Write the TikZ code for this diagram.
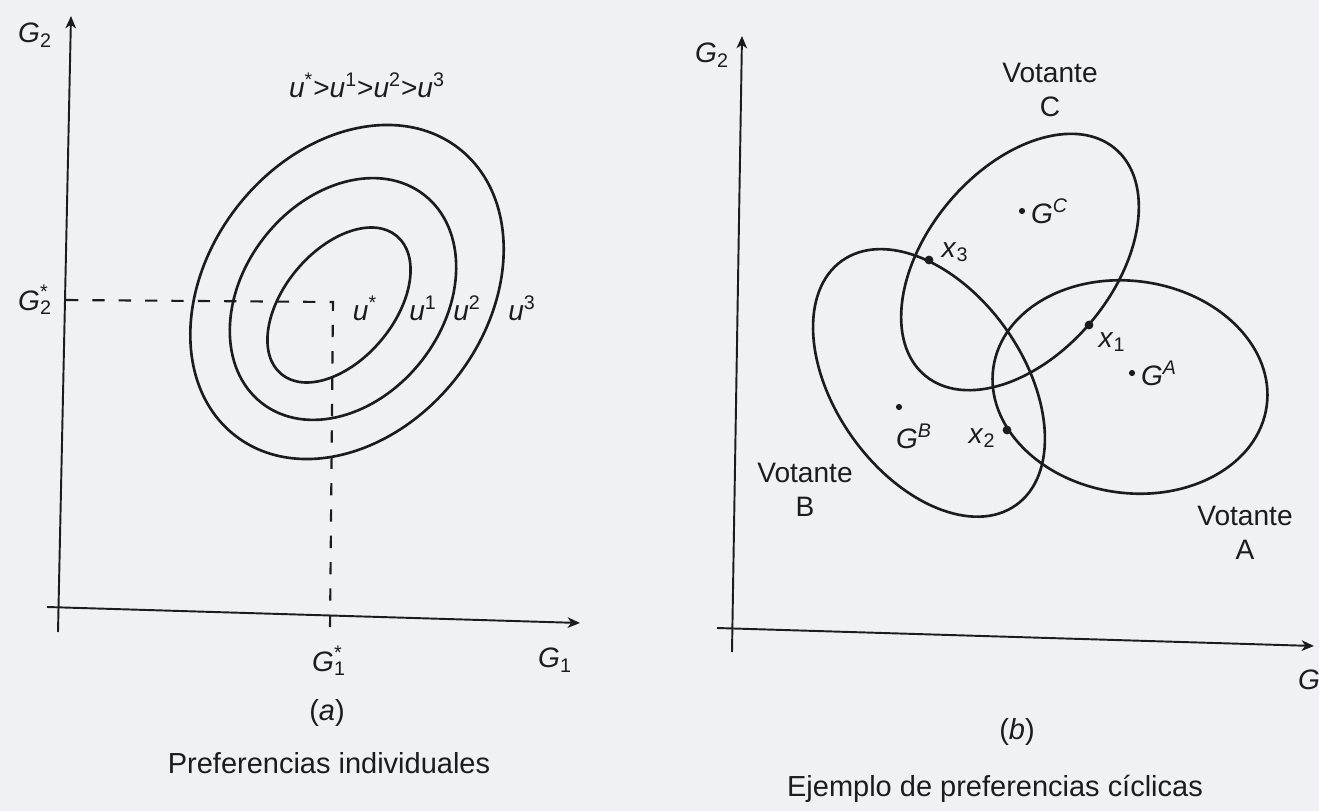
\documentclass[tikz,border=0pt]{standalone}
\usepackage{fontspec}
\setmainfont{Liberation Sans}
\usepackage{tikz}
\usetikzlibrary{arrows.meta,positioning}
\usepackage{xcolor}
\definecolor{paper}{RGB}{240,241,245}
\definecolor{ink}{RGB}{28,28,32}
\newcommand{\gv}[1]{\textit{#1}}

\begin{document}
\begin{tikzpicture}[
    x=0.02cm, y=-0.02cm,
    every node/.style={font=\fontsize{16}{19}\selectfont, text=ink, inner sep=1pt},
    curve/.style={draw=ink, line width=1.5pt},
    axis/.style={draw=ink, line width=1.1pt, -{Stealth[length=7pt, width=6pt, inset=2pt]}},
    guide/.style={draw=ink, line width=1.2pt, dash pattern=on 7pt off 8pt},
    dot/.style={circle, fill=ink, inner sep=0pt, minimum size=3.5pt},
    bigdot/.style={circle, fill=ink, inner sep=0pt, minimum size=5pt},
    caption/.style={align=center, font=\fontsize{16.5}{20}\selectfont}
]
\fill[paper] (0,0) rectangle (1319,811);
\useasboundingbox (0,0) rectangle (1319,811);

% (a) preferencias individuales
\coordinate (a0y) at (58,632);
\coordinate (a1y) at (71,16);
\coordinate (a0x) at (47,607);
\coordinate (a1x) at (580,623);
\coordinate (ustar) at (333,302);
\coordinate (g2tick) at (66,300);
\coordinate (g1tick) at (330,628);
\coordinate (ein) at (339,305);
\coordinate (emid) at (343,299);
\coordinate (eout) at (347,292);

\draw[axis] (a0y) -- (a1y);
\draw[axis] (a0x) -- (a1x);
\draw[guide] (g2tick) -- (ustar) -- (g1tick);
\draw[curve, rotate around={50:(ein)}] (ein) ellipse [x radius=90, y radius=55];
\draw[curve, rotate around={52:(emid)}] (emid) ellipse [x radius=132, y radius=100];
\draw[curve, rotate around={52:(eout)}] (eout) ellipse [x radius=182, y radius=139];

\node (g2a) at (35,35) {\gv{G}\textsubscript{2}};
\node (g2sa) at (35,300) {\gv{G}\rlap{\textsuperscript{*}}\textsubscript{2}};
\node (order) at (367,85) {\gv{u}\textsuperscript{*}>\gv{u}\textsuperscript{1}>\gv{u}\textsuperscript{2}>\gv{u}\textsuperscript{3}};
\node (ua) at (365,308) {\gv{u}\textsuperscript{*}};
\node (u1) at (423,308) {\gv{u}\textsuperscript{1}};
\node (u2) at (467,308) {\gv{u}\textsuperscript{2}};
\node (u3) at (522,308) {\gv{u}\textsuperscript{3}};
\node (g1sa) at (329,661) {\gv{G}\rlap{\textsuperscript{*}}\textsubscript{1}};
\node (g1a) at (555,660) {\gv{G}\textsubscript{1}};
\node[caption] (capa) at (327,713) {(\gv{a})};
\node[caption] (titlea) at (329,763) {Preferencias individuales};

% (b) preferencias ciclicas
\coordinate (b0y) at (732,652);
\coordinate (b1y) at (742,36);
\coordinate (b0x) at (717,628);
\coordinate (b1x) at (1314,646);
\coordinate (cA) at (1130,387);
\coordinate (cB) at (929,383);
\coordinate (cC) at (1020,262);

\draw[axis] (b0y) -- (b1y);
\draw[axis] (b0x) -- (b1x);
\draw[curve, rotate around={-8:(cA)}] (cA) ellipse [x radius=138, y radius=106];
\draw[curve, rotate around={-54.5:(cB)}] (cB) ellipse [x radius=150, y radius=94];
\draw[curve, rotate around={50:(cC)}] (cC) ellipse [x radius=148, y radius=93];

\node[dot] (gA) at (1132,373) {};
\node[dot] (gB) at (899,407) {};
\node[dot] (gC) at (1022,211) {};
\node[bigdot] (x1) at (1089,325) {};
\node[bigdot] (x2) at (1007,430) {};
\node[bigdot] (x3) at (929,260) {};

\node[right=2pt of gA] (gAl) {\gv{G}\textsuperscript{\gv{A}}};
\node[right=2pt of gC] (gCl) {\gv{G}\textsuperscript{\gv{C}}};
\node (gBl) at (914,436) {\gv{G}\textsuperscript{\gv{B}}};
\node (x1l) at (1112,342) {\gv{x}\textsubscript{1}};
\node (x2l) at (982,438) {\gv{x}\textsubscript{2}};
\node (x3l) at (955,252) {\gv{x}\textsubscript{3}};

\node[align=center] (votC) at (1050,90) {Votante\\C};
\node[align=center] (votB) at (805,490) {Votante\\B};
\node[align=center] (votA) at (1245,533) {Votante\\A};

\node (g2b) at (712,55) {\gv{G}\textsubscript{2}};
\node[anchor=west] (g1b) at (1296,682) {\gv{G}\textsubscript{1}};
\node[caption] (capb) at (1017,732) {(\gv{b})};
\node[caption] (titleb) at (995,789) {Ejemplo de preferencias cíclicas};
\end{tikzpicture}
\end{document}
